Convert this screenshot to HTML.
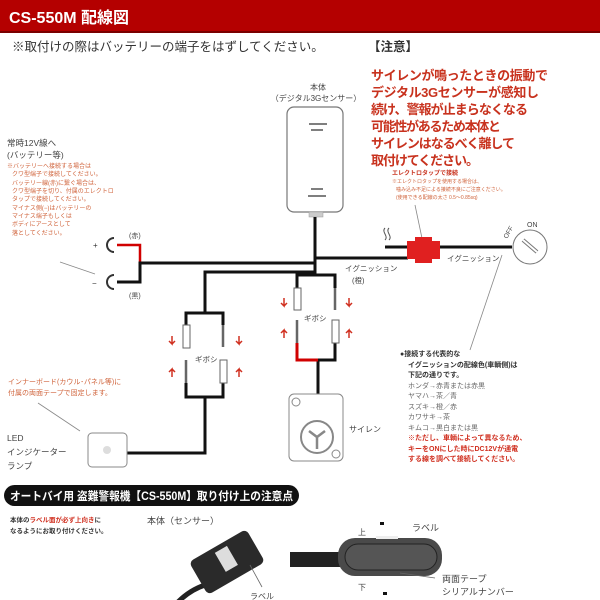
<!DOCTYPE html>
<html><head><meta charset="utf-8"><style>
body{margin:0;background:#fff;width:600px;height:600px;overflow:hidden}
svg{display:block}
text{font-family:"Liberation Sans","Noto Sans CJK JP",sans-serif}
</style></head><body>
<svg width="600" height="600" viewBox="0 0 600 600" xmlns="http://www.w3.org/2000/svg">
<rect x="0" y="0" width="600" height="32" fill="#b40000"/>
<rect x="0" y="31" width="600" height="2" fill="#7a0000"/>
<text x="9" y="23" font-size="16" font-weight="bold" fill="#fff">CS-550M 配線図</text>
<text x="12" y="51" font-size="12.5" fill="#333">※取付けの際はバッテリーの端子をはずしてください。</text>
<text x="368" y="51" font-size="12.5" font-weight="bold" fill="#333">【注意】</text>
<g font-size="13" font-weight="bold" fill="#c8321e">
<text x="371" y="80" textLength="177">サイレンが鳴ったときの振動で</text>
<text x="371" y="97" textLength="168">デジタル3Gセンサーが感知し</text>
<text x="371" y="114" textLength="157">続け、警報が止まらなくなる</text>
<text x="371" y="131" textLength="130">可能性があるため本体と</text>
<text x="371" y="148" textLength="144">サイレンはなるべく離して</text>
<text x="371" y="165" textLength="108">取付けてください。</text>
</g>
<text x="318" y="90" font-size="8" fill="#444" text-anchor="middle">本体</text>
<text x="316" y="101" font-size="8" fill="#444" text-anchor="middle">（デジタル3Gセンサー）</text>
<rect x="287" y="107" width="56" height="105" rx="7" fill="#fff" stroke="#777" stroke-width="1.2"/>
<path d="M309 124h18M311 130h12M311 189h12M308 196h18" stroke="#555" stroke-width="1.5"/>
<rect x="309" y="212" width="14" height="5" fill="#ccc" stroke="#999" stroke-width="0.5"/>
<text x="7" y="146" font-size="8.5" fill="#444">常時12V線へ</text>
<text x="7" y="158" font-size="8.5" fill="#444">(バッテリー等)</text>
<g font-size="6" fill="#d0643c">
<text x="7" y="168">※バッテリーへ接続する場合は</text>
<text x="12" y="176">クワ型端子で接続してください。</text>
<text x="12" y="185">バッテリー線(赤)に繋ぐ場合は、</text>
<text x="12" y="193">クワ型端子を切り、付属のエレクトロ</text>
<text x="12" y="201">タップで接続してください。</text>
<text x="12" y="210">マイナス側(−)はバッテリーの</text>
<text x="12" y="218">マイナス端子もしくは</text>
<text x="12" y="226">ボディにアースとして</text>
<text x="12" y="235">落としてください。</text>
</g>
<text x="93" y="248" font-size="8" fill="#333">+</text>
<text x="92" y="286" font-size="8" fill="#333">−</text>
<text x="129" y="238" font-size="7" fill="#444">(赤)</text>
<text x="129" y="298" font-size="7" fill="#444">(黒)</text>
<path d="M114 238a7 7 0 1 0 0 14M114 275a7 7 0 1 0 0 14" fill="none" stroke="#333" stroke-width="2"/>
<path d="M117 245H140V263" fill="none" stroke="#d00000" stroke-width="2.5"/>
<path d="M117 282H140V263H316M315 217V275M316 258H408M385 247H408M440 247H512" fill="none" stroke="#111" stroke-width="3"/>
<path d="M385 228c-4 4 4 8 0 12M389 228c-4 4 4 8 0 12" fill="none" stroke="#555"/>
<path d="M60 262l35 12M415 205l8 38" stroke="#888" stroke-width="0.8"/>
<rect x="407" y="241" width="33" height="18" fill="#e02020"/>
<rect x="415" y="237" width="17" height="26" fill="#e02020"/>
<text x="392" y="175" font-size="6" font-weight="bold" fill="#c8321e">エレクトロタップで接続</text>
<g font-size="5" fill="#d0643c"><text x="392" y="183">※エレクトロタップを使用する場合は、</text><text x="396" y="191">噛み込み不足による接続不良にご注意ください。</text><text x="396" y="199">(使用できる配線の太さ 0.5〜0.85sq)</text></g>
<text x="447" y="261" font-size="7.5" fill="#444">イグニッション</text>
<text x="345" y="271" font-size="7.5" fill="#444">イグニッション</text>
<text x="352" y="283" font-size="7.5" fill="#444">(橙)</text>
<circle cx="530" cy="247" r="17" fill="#fff" stroke="#777"/>
<path d="M523 240l14 12" stroke="#777" stroke-width="4"/><path d="M523 240l14 12" stroke="#fff" stroke-width="2"/>
<text x="507" y="239" font-size="6.5" fill="#444" transform="rotate(-60 507 239)">OFF</text>
<text x="527" y="227" font-size="7" fill="#444">ON</text>
<path d="M502 255l-32 95" stroke="#888" stroke-width="0.8"/>
<!-- left branch -->
<path d="M316 272H205V313M186 325V313H223V325M186 383V397H223V383M205 397V453H127" fill="none" stroke="#111" stroke-width="3"/>
<rect x="183" y="325" width="7" height="23" fill="#fff" stroke="#666"/>
<rect x="220" y="360" width="7" height="23" fill="#fff" stroke="#666"/>
<path d="M223 325v22M186 360v23" stroke="#666" stroke-width="2.5"/>
<text x="195" y="362" font-size="7.5" fill="#444">ギボシ</text>
<path d="M172 336v8l-3-3m3 3l3-3M239 336v8l-3-3m3 3l3-3M172 377v-8l-3 3m3-3l3 3M239 377v-8l-3 3m3-3l3 3" fill="none" stroke="#d03020" stroke-width="1.5"/>
<!-- right branch -->
<path d="M316 275H297V288M316 275H335V288M335 343V360H318V394" fill="none" stroke="#111" stroke-width="3"/>
<path d="M297 343V360H318" fill="none" stroke="#d00000" stroke-width="3"/>
<rect x="294" y="288" width="7" height="22" fill="#fff" stroke="#666"/>
<rect x="332" y="320" width="7" height="23" fill="#fff" stroke="#666"/>
<path d="M335 288v22M297 320v23" stroke="#666" stroke-width="2.5"/>
<text x="304" y="321" font-size="7.5" fill="#444">ギボシ</text>
<path d="M284 298v8l-3-3m3 3l3-3M349 298v8l-3-3m3 3l3-3M284 338v-8l-3 3m3-3l3 3M349 338v-8l-3 3m3-3l3 3" fill="none" stroke="#d03020" stroke-width="1.5"/>
<rect x="289" y="394" width="54" height="67" rx="5" fill="#fff" stroke="#888"/>
<circle cx="296" cy="402" r="4" fill="none" stroke="#888"/><circle cx="336" cy="454" r="4" fill="none" stroke="#888"/>
<circle cx="317" cy="437" r="16" fill="none" stroke="#888" stroke-width="2"/>
<path d="M309 431l8 6 8-6M317 437v12" stroke="#888" stroke-width="2.5" fill="none"/>
<text x="349" y="432" font-size="8" fill="#444">サイレン</text>
<text x="8" y="384" font-size="7" fill="#d0643c">インナーボード(カウル･パネル等)に</text>
<text x="8" y="395" font-size="7" fill="#d0643c">付属の両面テープで固定します。</text>
<path d="M38 403l42 28" stroke="#888" stroke-width="0.8"/>
<rect x="88" y="433" width="39" height="34" rx="4" fill="#fff" stroke="#888"/>
<circle cx="107" cy="450" r="4" fill="#ddd"/>
<text x="7" y="441" font-size="8.5" fill="#444">LED</text>
<text x="7" y="455" font-size="8.5" fill="#444">インジケーター</text>
<text x="7" y="469" font-size="8.5" fill="#444">ランプ</text>
<g font-size="7" fill="#333">
<text x="400" y="356" font-weight="bold">●接続する代表的な</text>
<text x="408" y="367" font-weight="bold">イグニッションの配線色(車輌側)は</text>
<text x="408" y="377" font-weight="bold">下記の通りです。</text>
<text x="408" y="388" fill="#666">ホンダ→赤青または赤黒</text>
<text x="408" y="398" fill="#666">ヤマハ→茶／青</text>
<text x="408" y="409" fill="#666">スズキ→橙／赤</text>
<text x="408" y="419" fill="#666">カワサキ→茶</text>
<text x="408" y="430" fill="#666">キムコ→黒白または黒</text>
<text x="408" y="440" font-weight="bold" fill="#d03020">※ただし、車輌によって異なるため、</text>
<text x="408" y="451" font-weight="bold" fill="#d03020">キーをONにした時にDC12Vが通電</text>
<text x="408" y="461" font-weight="bold" fill="#d03020">する線を調べて接続してください。</text>
</g>
<!-- bottom -->
<rect x="4" y="485" width="295" height="21" rx="10.5" fill="#111"/>
<text x="10" y="500" font-size="11.5" font-weight="bold" fill="#fff" textLength="283" lengthAdjust="spacingAndGlyphs">オートバイ用 盗難警報機【CS-550M】取り付け上の注意点</text>
<text x="10" y="522" font-size="6.5" font-weight="bold" fill="#333">本体の<tspan fill="#d03020">ラベル面が必ず上向き</tspan>に</text>
<text x="10" y="533" font-size="6.5" font-weight="bold" fill="#333">なるようにお取り付けください。</text>
<text x="147" y="524" font-size="9" fill="#444">本体（センサー）</text>
<path d="M205 585q-15 5-27 17" stroke="#222" stroke-width="5" fill="none"/>
<g transform="rotate(-30 227 562)"><rect x="194" y="543" width="66" height="38" rx="5" fill="#2a2a2a"/><rect x="221" y="548" width="14" height="22" fill="#ddd"/></g>
<path d="M250 565l12 22" stroke="#666" stroke-width="0.8"/>
<text x="250" y="599" font-size="8" fill="#444">ラベル</text>
<rect x="290" y="552" width="50" height="15" fill="#222"/>
<rect x="338" y="538" width="104" height="38" rx="17" fill="#4a4a4a"/>
<rect x="345" y="544" width="92" height="26" rx="13" fill="#555" stroke="#222"/>
<rect x="376" y="536" width="22" height="3" fill="#eee"/>
<text x="358" y="535" font-size="8" fill="#444">上</text><rect x="380" y="522" width="4" height="3" fill="#111"/>
<text x="358" y="590" font-size="8" fill="#444">下</text><rect x="383" y="592" width="4" height="3" fill="#111"/>
<text x="412" y="531" font-size="9" fill="#444">ラベル</text>
<text x="442" y="582" font-size="9" fill="#444">両面テープ</text>
<text x="442" y="595" font-size="9" fill="#444">シリアルナンバー</text>
<path d="M400 573l35 5" stroke="#666" stroke-width="0.8"/>
</svg>
</body></html>
